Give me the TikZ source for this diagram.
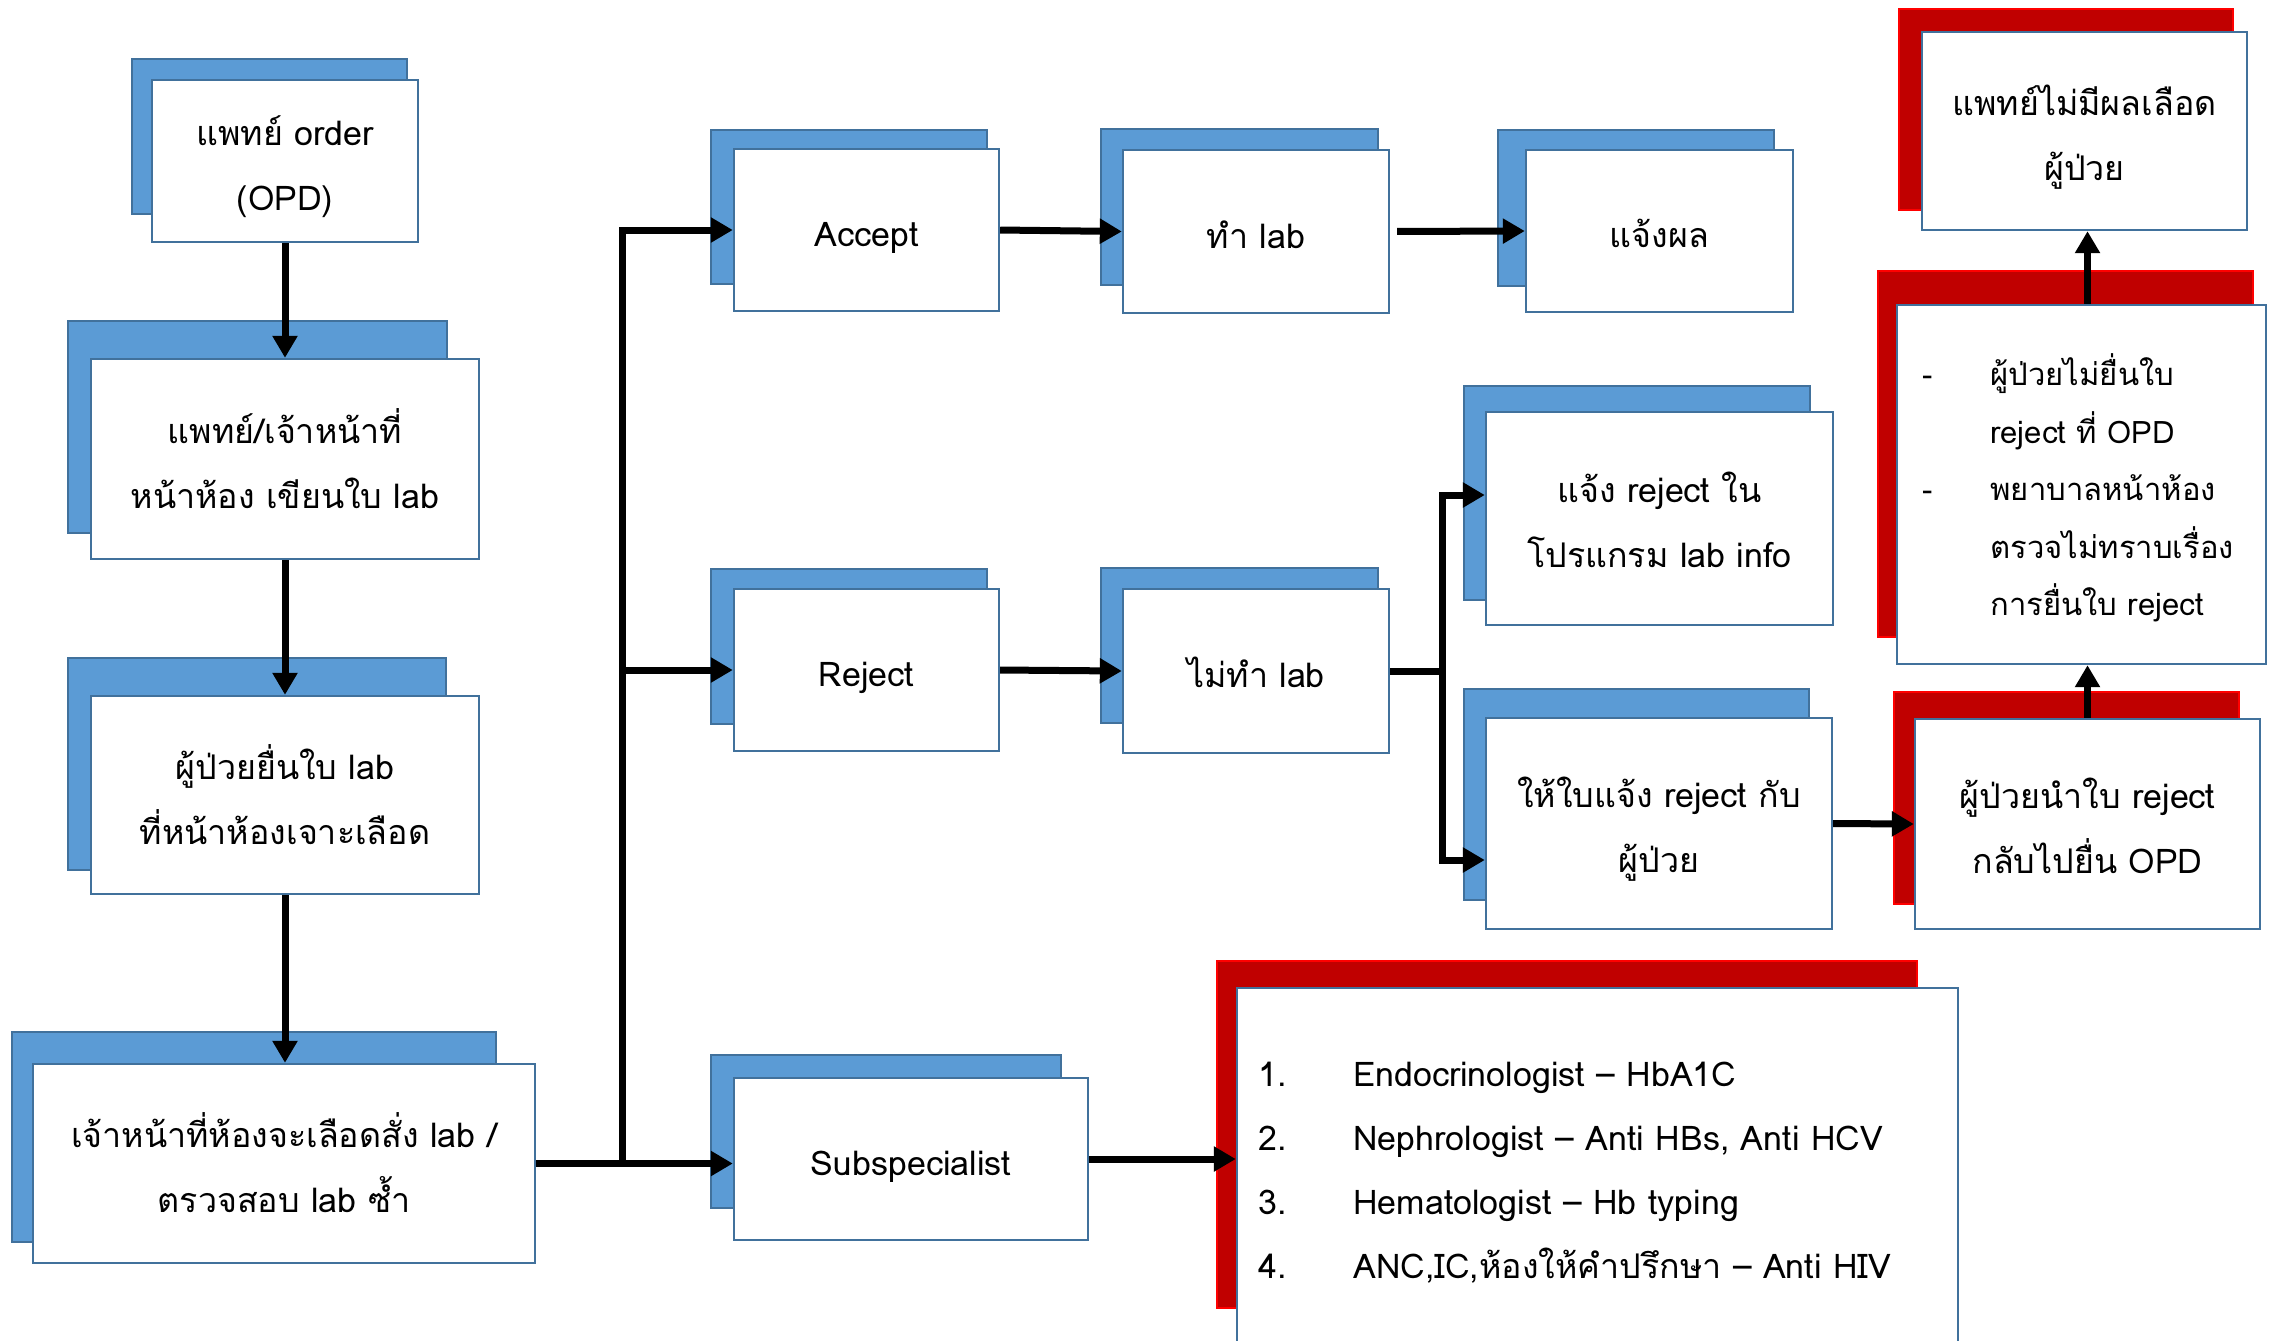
\documentclass[tikz,border=0pt]{standalone}
\usepackage{fontspec}
\setmainfont[Script=Thai]{Loma}
\usetikzlibrary{fit,arrows.meta}
\definecolor{bfill}{HTML}{5B9BD5}
\definecolor{bline}{HTML}{41719C}
\definecolor{rfill}{HTML}{C00000}
\definecolor{rline}{HTML}{FF0000}
\newcommand\mainfs{\fontsize{17}{32.5}\selectfont}
% line struts: equal height/depth for every line
\newcommand\Ls{\rule[-10.5pt]{0pt}{32.5pt}}
\newcommand\Ms{\rule[-8.9pt]{0pt}{28.75pt}}
\newcommand\Ns{\rule[-10.25pt]{0pt}{32pt}}
\tikzset{
 backb/.style={draw=bline, line width=1.2pt, fill=bfill, inner sep=0pt},
 backr/.style={draw=rline, line width=0.8pt, fill=rfill, inner sep=0pt},
 frontb/.style={draw=bline, line width=1.2pt, fill=white, inner sep=0pt},
 txt/.style={inner sep=0pt, align=center, font=\mainfs},
 conn/.style={line width=3.5pt, -{Triangle[length=11pt,width=12pt]}},
 plain/.style={line width=3.5pt},
}
\newcommand\duo[7]{%
 \node[#1, fit={(#3) (#4)}] (#2bk) {};
 \node[frontb, fit={(#5) (#6)}] (#2) {};
 \node[txt] (#2t) at ([yshift=-2.5pt]#2.center) {#7};}
\begin{document}
\begin{tikzpicture}[x=0.5pt,y=-0.5pt]
\useasboundingbox (0,0) rectangle (2269,1340);
\clip (0,0) rectangle (2269,1340);
\fill[white] (0,0) rectangle (2269,1340);
% left column
\duo{backb}{b1}{132,59}{407,214}{152,80}{418,242}{\Ls แพทย์ order\\\Ls (OPD)}
\duo{backb}{b2}{68,321}{447,533}{91,359}{479,559}{\Ls แพทย์/เจ้าหน้าที่\\\Ls หน้าห้อง เขียนใบ lab}
\duo{backb}{b3}{68,658}{446,870}{91,696}{479,894}{\Ls ผู้ป่วยยื่นใบ lab\\\Ls ที่หน้าห้องเจาะเลือด}
\duo{backb}{b4}{12,1032}{496,1242}{33,1064}{535,1263}{\Ls เจ้าหน้าที่ห้องจะเลือดสั่ง lab /\\\Ls ตรวจสอบ lab ซ้ำ}
% second column
\duo{backb}{acc}{711,130}{987,284}{734,149}{999,311}{\Ls Accept}
\duo{backb}{rej}{711,569}{987,724}{734,589}{999,751}{\Ls Reject}
\duo{backb}{sub}{711,1055}{1061,1208}{734,1078}{1088,1240}{\Ls Subspecialist}
% third column
\duo{backb}{tl}{1101,129}{1378,285}{1123,150}{1389,313}{\Ls ทำ lab}
\duo{backb}{ntl}{1101,568}{1378,723}{1123,589}{1389,753}{\Ls ไม่ทำ lab}
\duo{backb}{res}{1498,130}{1774,286}{1526,150}{1793,312}{\Ls แจ้งผล}
\duo{backb}{rj1}{1464,386}{1810,600}{1486,412}{1833,625}{\Ls แจ้ง reject ใน\\\Ls โปรแกรม lab info}
\duo{backb}{giv}{1464,689}{1809,900}{1486,718}{1832,929}{\Ls ให้ใบแจ้ง reject กับ\\\Ls ผู้ป่วย}
% red boxes
\duo{backr}{ret}{1894,692}{2239,904}{1915,719}{2260,929}{\Ls ผู้ป่วยนำใบ reject\\\Ls กลับไปยื่น OPD}
\duo{backr}{top}{1899,9}{2233,210}{1922,32}{2247,230}{\Ls แพทย์ไม่มีผลเลือด\\\Ls ผู้ป่วย}
\node[backr, fit={(1878,271) (2253,637)}] (midbk) {};
\node[frontb, fit={(1897,305) (2266,664)}] (mid) {};
\node[txt, align=left, anchor=west, font=\fontsize{15.5}{28.75}\selectfont] (midt) at (1922,490)
 {\Ms\makebox[34pt][l]{-}ผู้ป่วยไม่ยื่นใบ\\\Ms\hspace*{34pt}reject ที่ OPD\\
  \Ms\makebox[34pt][l]{-}พยาบาลหน้าห้อง\\\Ms\hspace*{34pt}ตรวจไม่ทราบเรื่อง\\\Ms\hspace*{34pt}การยื่นใบ reject};
\node[backr, fit={(1217,961) (1917,1308)}] (lstbk) {};
\node[frontb, fit={(1237,988) (1958,1360)}] (lst) {};
\node[txt, align=left, anchor=west, font=\fontsize{17}{32}\selectfont] (lstt) at (1258,1171)
 {\Ns\makebox[47.5pt][l]{1.}Endocrinologist – HbA1C\\
  \Ns\makebox[47.5pt][l]{2.}Nephrologist – Anti HBs, Anti HCV\\
  \Ns\makebox[47.5pt][l]{3.}Hematologist – Hb typing\\
  \Ns\makebox[47.5pt][l]{4.}ANC,IC,ห้องให้คำปรึกษา – Anti HIV};
% connectors
\draw[conn] (b1.south) -- (b2.north);
\draw[conn] (b2.south) -- (b3.north);
\draw[conn] (b3.south) -- (b3.south |- b4.north);
\coordinate (tr) at (622,0);
\draw[conn] (b4.east) -- (b4.east -| sub.west);
\draw[conn] (tr |- b4.east) |- (acc.west);
\draw[conn] (tr |- rej.west) -- (rej.west);
\draw[conn] (acc.east) -- (tl.west);
\draw[conn, shorten <=3.5pt] (tl.east) -- (res.west);
\draw[conn] (rej.east) -- (ntl.west);
\coordinate (sp) at (1442,0);
\draw[plain] (ntl.east) -- (sp |- ntl.east);
\draw[conn] (sp |- ntl.east) |- ([yshift=11.75pt]rj1.west);
\draw[conn] (sp |- ntl.east) |- ([yshift=-18.25pt]giv.west);
\draw[conn] (giv.east) -- (ret.west);
\draw[conn] (ret.north) -- (ret.north |- mid.south);
\draw[conn] (ret.north |- mid.north) -- (ret.north |- top.south);
\draw[conn] (sub.east) -- (sub.east -| lst.west);
\end{tikzpicture}
\end{document}
